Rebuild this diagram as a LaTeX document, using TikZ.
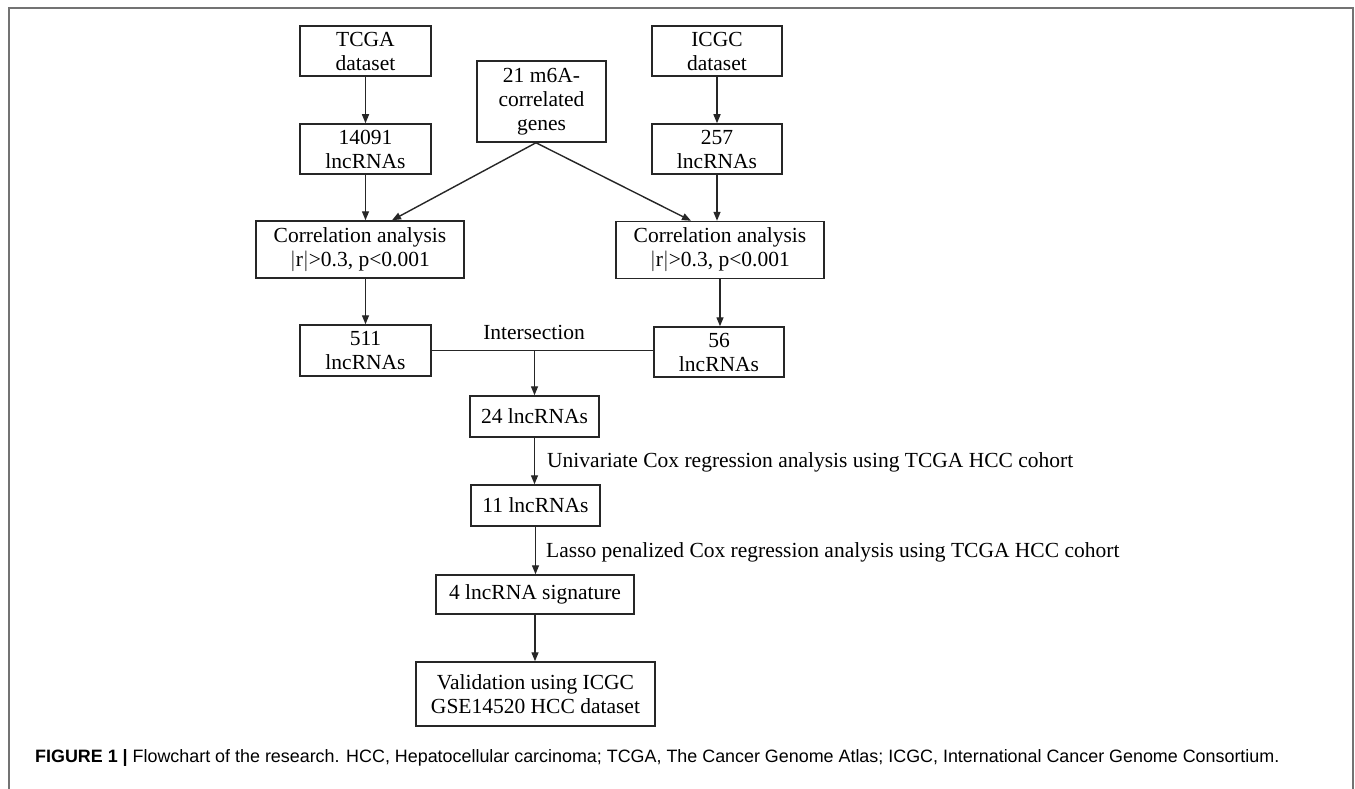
\documentclass[tikz,border=0pt]{standalone}
\usepackage{fontspec}
\setmainfont{Liberation Serif}
\newfontfamily\capfont{Liberation Sans}
\usetikzlibrary{arrows.meta,calc}
\begin{document}
\begin{tikzpicture}[x=1pt,y=-1pt,
  box/.style={draw=black!85,line width=1.5pt,inner sep=0pt,align=center,font=\fontsize{21.5}{24}\selectfont,fill=white},
  arr/.style={draw=black!85,line width=1.4pt,-{Triangle[length=9pt,width=7pt]}},
  ln/.style={draw=black!85,line width=1.4pt},
  lbl/.style={font=\fontsize{21.5}{24}\selectfont,inner sep=0pt}]
\useasboundingbox (0,0) rectangle (1355,789);
\fill[white] (0,0) rectangle (1355,789);
\draw[black!55, line width=1.5pt] (9,789) -- (9,8) -- (1353,8) -- (1353,789);

% left column
\node[box,minimum width=131pt,minimum height=50pt] (tcga) at (365.5,51) {TCGA\\dataset};
\node[box,minimum width=131pt,minimum height=50pt] (l14091) at (365.5,149) {14091\\lncRNAs};
\node[box,minimum width=208pt,minimum height=57pt] (corrL) at (360,249.5) {Correlation analysis\\$|$r$|$>0.3, p<0.001};
\node[box,minimum width=131pt,minimum height=51pt] (l511) at (365.5,350.5) {511\\lncRNAs};

% middle top
\node[box,minimum width=129pt,minimum height=81pt] (m6a) at (541.5,101.5) {21 m6A-\\correlated\\genes};

% right column
\node[box,minimum width=130pt,minimum height=50pt] (icgc) at (717,51) {ICGC\\dataset};
\node[box,minimum width=130pt,minimum height=50pt] (l257) at (717,149) {257\\lncRNAs};
\node[box,minimum width=208pt,minimum height=57pt] (corrR) at (720,250) {Correlation analysis\\$|$r$|$>0.3, p<0.001};
\node[box,minimum width=130pt,minimum height=50pt] (l56) at (719,352) {56\\lncRNAs};

% centre column
\node[box,minimum width=129pt,minimum height=41pt] (l24) at (534.5,416.5) {24 lncRNAs};
\node[box,minimum width=129pt,minimum height=41pt] (l11) at (535.5,505.5) {11 lncRNAs};
\node[box,minimum width=198pt,minimum height=39pt] (sig) at (535,594.5) {4 lncRNA signature};
\node[box,minimum width=239pt,minimum height=64pt] (val) at (535.5,694) {Validation using ICGC\\GSE14520 HCC dataset};

% labels
\node[lbl] (inter) at (534,332) {Intersection};
\node[lbl,anchor=west] (uni) at (547,462) {Univariate Cox regression analysis using TCGA HCC cohort};
\node[lbl,anchor=west] (lasso) at (546,552) {Lasso penalized Cox regression analysis using TCGA HCC cohort};

% connectors
\draw[arr] (tcga.south) -- (tcga.south |- l14091.north);
\draw[arr] (l14091.south) -- (l14091.south |- corrL.north);
\draw[arr] (l511.north |- corrL.south) -- (l511.north);
\draw[arr] (icgc.south) -- (icgc.south |- l257.north);
\draw[arr] (l257.south) -- (l257.south |- corrR.north);
\draw[arr] (corrR.south) -- (corrR.south |- l56.north);
\draw[arr] ([xshift=-5.5pt]m6a.south) -- ([xshift=32pt]corrL.north);
\draw[arr] ([xshift=-5.5pt]m6a.south) -- ([xshift=-29pt]corrR.north);
\coordinate (junc) at (l24.north |- l511.east);
\draw[ln] (l511.east) -- (junc) -- (junc -| l56.west);
\draw[arr] (junc) -- (l24.north);
\draw[arr] (l24.south) -- (l24.south |- l11.north);
\draw[arr] (l11.south) -- (l11.south |- sig.north);
\draw[arr] (sig.south) -- (sig.south |- val.north);

% caption
\node[anchor=west,inner sep=0pt,font=\capfont\fontsize{17.9}{20}\selectfont] (cap) at (35,758)
  {\textbf{FIGURE 1} \textbf{|} Flowchart of the research. HCC, Hepatocellular carcinoma; TCGA, The Cancer Genome Atlas; ICGC, International Cancer Genome Consortium.};
\end{tikzpicture}
\end{document}
